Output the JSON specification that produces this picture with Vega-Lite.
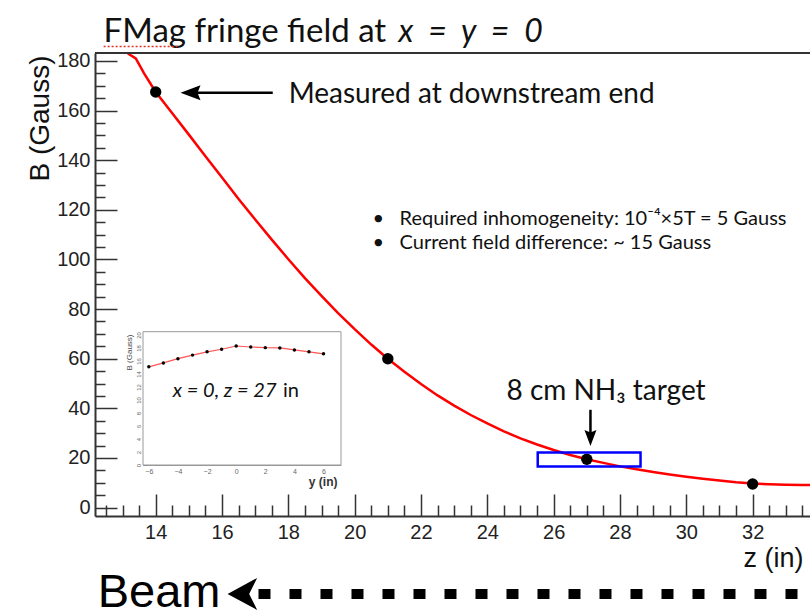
{
  "$schema": "https://vega.github.io/schema/vega-lite/v6.json",
  "width": 715,
  "height": 463,
  "padding": {"left": 95, "top": 53, "right": 0, "bottom": 100},
  "autosize": {"type": "none"},
  "background": "white",
  "config": {"view": {"stroke": null}, "font": "Liberation Sans"},
  "datasets": {
    "curve": [
      {"z": 13.16, "B": 183.0}, {"z": 13.4, "B": 181.0}, {"z": 13.65, "B": 175.0}, {"z": 14, "B": 167.5},
      {"z": 14.5, "B": 158.9}, {"z": 15, "B": 150.3}, {"z": 15.5, "B": 141.6}, {"z": 16, "B": 133.0},
      {"z": 16.5, "B": 124.4}, {"z": 17, "B": 116.1}, {"z": 17.5, "B": 108.0}, {"z": 18, "B": 100.1},
      {"z": 18.5, "B": 92.5}, {"z": 19, "B": 85.3}, {"z": 19.5, "B": 78.4}, {"z": 20, "B": 71.9},
      {"z": 20.5, "B": 65.7}, {"z": 21, "B": 60.0}, {"z": 21.5, "B": 54.7}, {"z": 22, "B": 49.8},
      {"z": 22.5, "B": 45.2}, {"z": 23, "B": 41.1}, {"z": 23.5, "B": 37.3}, {"z": 24, "B": 33.9},
      {"z": 24.5, "B": 30.7}, {"z": 25, "B": 27.9}, {"z": 25.5, "B": 25.4}, {"z": 26, "B": 23.2},
      {"z": 26.5, "B": 21.2}, {"z": 27, "B": 19.5}, {"z": 27.5, "B": 18.0}, {"z": 28, "B": 16.6},
      {"z": 28.5, "B": 15.4}, {"z": 29, "B": 14.3}, {"z": 29.5, "B": 13.3}, {"z": 30, "B": 12.4},
      {"z": 30.5, "B": 11.6}, {"z": 31, "B": 10.9}, {"z": 31.5, "B": 10.2}, {"z": 32, "B": 9.7},
      {"z": 32.5, "B": 9.4}, {"z": 33, "B": 9.2}, {"z": 33.5, "B": 9.1}, {"z": 33.73, "B": 9.1}
    ],
    "measured": [
      {"z": 14, "B": 167.5}, {"z": 21, "B": 60.0}, {"z": 27, "B": 19.5}, {"z": 32, "B": 9.5}
    ],
    "inset": [
      {"y": -6, "B": 15.1}, {"y": -5, "B": 15.7}, {"y": -4, "B": 16.35}, {"y": -3, "B": 16.9},
      {"y": -2, "B": 17.4}, {"y": -1, "B": 17.8}, {"y": 0, "B": 18.3}, {"y": 1, "B": 18.15},
      {"y": 2, "B": 18.05}, {"y": 3, "B": 18.0}, {"y": 4, "B": 17.7}, {"y": 5, "B": 17.4},
      {"y": 6, "B": 17.1}
    ],
    "one": [{}]
  },
  "layer": [
    {
      "encoding": {
        "x": {"type": "quantitative", "scale": {"domain": [12.17, 33.73], "nice": false, "zero": false}},
        "y": {"type": "quantitative", "scale": {"domain": [-3.4, 183.2], "nice": false, "zero": false}}
      },
      "layer": [
        {
          "data": {"name": "curve"},
          "mark": {"type": "line", "color": "#ff0000", "strokeWidth": 2.5, "clip": true},
          "encoding": {
            "x": {"field": "z", "type": "quantitative",
              "axis": {"values": [14, 16, 18, 20, 22, 24, 26, 28, 30, 32], "tickSize": -22, "tickWidth": 1.5, "tickColor": "#333",
                "domainColor": "#333", "domainWidth": 2, "labelFontSize": 20, "labelColor": "#222", "labelPadding": 28,
                "grid": false, "title": "z (in)", "titleFontSize": 27, "titleFontWeight": "normal", "titleColor": "#111",
                "titleAnchor": "end", "titleAlign": "right", "titleX": 708, "titleY": 50, "titleBaseline": "alphabetic"}},
            "y": {"field": "B", "type": "quantitative",
              "axis": {"values": [0, 20, 40, 60, 80, 100, 120, 140, 160, 180], "tickSize": -22, "tickWidth": 1.5, "tickColor": "#333",
                "domainColor": "#333", "domainWidth": 2, "labelFontSize": 20, "labelColor": "#222", "labelPadding": 27,
                "grid": false, "title": "B (Gauss)", "titleFontSize": 28, "titleFontWeight": "normal", "titleColor": "#111",
                "titleAngle": -90, "titleAnchor": "end", "titleAlign": "right", "titleX": -47, "titleY": 2, "titleBaseline": "alphabetic"}}
          }
        },
        {
          "data": {"name": "measured"},
          "mark": {"type": "point", "filled": true, "color": "black", "size": 130, "opacity": 1},
          "encoding": {"x": {"field": "z", "type": "quantitative"}, "y": {"field": "B", "type": "quantitative"}}
        },
        {
          "data": {"name": "one"},
          "mark": {"type": "rule", "color": "#333", "strokeWidth": 2},
          "encoding": {"y": {"datum": 183.2}}
        },
        {
          "data": {"name": "one"},
          "mark": {"type": "rule", "color": "black", "strokeWidth": 2.5},
          "encoding": {"x": {"datum": 15.0}, "x2": {"datum": 17.53}, "y": {"datum": 167.2}}
        },
        {
          "data": {"name": "one"},
          "mark": {"type": "point", "filled": true, "color": "black", "opacity": 1, "size": 400, "shape": "M-1,0 L1,-0.75 L0.7,0 L1,0.75 Z"},
          "encoding": {"x": {"datum": 15.05}, "y": {"datum": 167.2}}
        },
        {
          "data": {"name": "one"},
          "mark": {"type": "text", "font": "Lato", "fontSize": 28, "align": "left", "baseline": "alphabetic", "color": "#111"},
          "encoding": {"x": {"datum": 18.01}, "y": {"datum": 163.2}, "text": {"value": "Measured at downstream end"}}
        },
        {
          "data": {"name": "one"},
          "mark": {"type": "text", "font": "Lato", "fontSize": 33, "align": "left", "baseline": "alphabetic", "color": "#111"},
          "encoding": {"x": {"datum": 12.43}, "y": {"datum": 187.6}, "text": {"value": "FMag fringe field at"}}
        },
        {
          "data": {"name": "one"},
          "mark": {"type": "text", "font": "Lato", "fontSize": 32, "fontStyle": "italic", "align": "left", "baseline": "alphabetic", "color": "#111"},
          "encoding": {"x": {"datum": 21.32}, "y": {"datum": 187.6}, "text": {"value": "x\u00a0\u00a0=\u00a0\u00a0y\u00a0\u00a0=\u00a0\u00a00"}}
        },
        {
          "data": {"name": "one"},
          "mark": {"type": "rule", "color": "#e03020", "strokeWidth": 1.5, "strokeDash": [2, 2]},
          "encoding": {"x": {"datum": 12.43}, "x2": {"datum": 14.69}, "y": {"datum": 185.8}}
        },
        {
          "data": {"name": "one"},
          "mark": {"type": "text", "font": "Lato", "fontSize": 20, "align": "left", "baseline": "alphabetic", "color": "#111"},
          "encoding": {"x": {"datum": 20.54}, "y": {"datum": 113.9}, "text": {"value": "•\u00a0\u00a0\u00a0Required inhomogeneity: 10⁻⁴×5T = 5 Gauss"}}
        },
        {
          "data": {"name": "one"},
          "mark": {"type": "text", "font": "Lato", "fontSize": 20, "align": "left", "baseline": "alphabetic", "color": "#111"},
          "encoding": {"x": {"datum": 20.54}, "y": {"datum": 104.2}, "text": {"value": "•\u00a0\u00a0\u00a0Current field difference: ~ 15 Gauss"}}
        },
        {
          "data": {"name": "one"},
          "mark": {"type": "text", "font": "Lato", "fontSize": 28, "align": "center", "baseline": "alphabetic", "color": "#111"},
          "encoding": {"x": {"datum": 27.58}, "y": {"datum": 43.4}, "text": {"value": "8 cm NH₃ target"}}
        },
        {
          "data": {"name": "one"},
          "mark": {"type": "rule", "color": "black", "strokeWidth": 2.5},
          "encoding": {"x": {"datum": 27.11}, "y": {"datum": 39.4}, "y2": {"datum": 29.0}}
        },
        {
          "data": {"name": "one"},
          "mark": {"type": "point", "filled": true, "color": "black", "opacity": 1, "size": 256, "shape": "M0,1 L-0.75,-1 L0,-0.7 L0.75,-1 Z"},
          "encoding": {"x": {"datum": 27.11}, "y": {"datum": 28.0}}
        },
        {
          "data": {"name": "one"},
          "mark": {"type": "rect", "fill": null, "stroke": "#0000ff", "strokeWidth": 2.5},
          "encoding": {"x": {"datum": 25.52}, "x2": {"datum": 28.62}, "y": {"datum": 16.5}, "y2": {"datum": 22.2}}
        },
        {
          "data": {"name": "one"},
          "mark": {"type": "text", "font": "Liberation Sans", "fontSize": 47, "align": "left", "baseline": "alphabetic", "color": "black"},
          "encoding": {"x": {"datum": 12.25}, "y": {"datum": -40.2}, "text": {"value": "Beam"}}
        },
        {
          "data": {"name": "one"},
          "mark": {"type": "point", "filled": true, "color": "black", "opacity": 1, "size": 1024, "shape": "M-1,0 L0.85,-1 L0.35,0 L0.85,1 Z"},
          "encoding": {"x": {"datum": 16.65}, "y": {"datum": -34.8}}
        },
        {
          "data": {"name": "one"},
          "mark": {"type": "rule", "color": "black", "strokeWidth": 10, "strokeDash": [12, 19], "strokeCap": "butt"},
          "encoding": {"x": {"datum": 17.1}, "x2": {"datum": 33.73}, "y": {"datum": -34.8}}
        }
      ]
    },
    {
      "data": {"name": "measured"},
      "mark": {"type": "point", "opacity": 0},
      "encoding": {
        "x": {"field": "z", "type": "quantitative", "scale": {"domain": [12.17, 33.73], "nice": false, "zero": false},
          "axis": {"orient": "bottom", "values": [12.5, 13, 13.5, 14.5, 15, 15.5, 16.5, 17, 17.5, 18.5, 19, 19.5, 20.5, 21, 21.5, 22.5, 23, 23.5, 24.5, 25, 25.5, 26.5, 27, 27.5, 28.5, 29, 29.5, 30.5, 31, 31.5, 32.5, 33, 33.5],
            "tickSize": -11, "tickWidth": 1.5, "tickColor": "#333", "labels": false, "domain": false, "grid": false, "title": null}},
        "y": {"field": "B", "type": "quantitative", "scale": {"domain": [-3.4, 183.2], "nice": false, "zero": false},
          "axis": {"orient": "left", "values": [5, 10, 15, 25, 30, 35, 45, 50, 55, 65, 70, 75, 85, 90, 95, 105, 110, 115, 125, 130, 135, 145, 150, 155, 165, 170, 175],
            "tickSize": -10, "tickWidth": 1.5, "tickColor": "#333", "labels": false, "domain": false, "grid": false, "title": null}}
      }
    },
    {
      "encoding": {
        "x": {"type": "quantitative", "scale": {"domain": [-6.4, 7.2], "range": [48, 246], "nice": false, "zero": false}},
        "y": {"type": "quantitative", "scale": {"domain": [0, 20.5], "range": [412, 278.7], "nice": false, "zero": false}}
      },
      "layer": [
        {
          "data": {"name": "one"},
          "mark": {"type": "rect", "fill": "white", "stroke": "#999", "strokeWidth": 1},
          "encoding": {"x": {"datum": -6.4}, "x2": {"datum": 7.2}, "y": {"datum": 0}, "y2": {"datum": 20.5}}
        },
        {
          "data": {"name": "inset"},
          "mark": {"type": "line", "color": "#ff5555", "strokeWidth": 1.2},
          "encoding": {
            "x": {"field": "y", "type": "quantitative",
              "axis": {"orient": "bottom", "offset": -51, "values": [-6, -4, -2, 0, 2, 4, 6], "tickSize": -4, "tickColor": "#888", "domainColor": "#999",
                "labelFontSize": 7, "labelColor": "#666", "labelPadding": 6, "grid": false,
                "title": "y (in)", "titleFontSize": 12, "titleFontWeight": "bold", "titleColor": "#333", "titleAnchor": "end", "titleAlign": "right", "titleX": 242, "titleY": 20, "titleBaseline": "alphabetic"}},
            "y": {"field": "B", "type": "quantitative",
              "axis": {"orient": "left", "offset": -48, "values": [0, 2, 4, 6, 8, 10, 12, 14, 16, 18, 20], "tickSize": -4, "tickColor": "#888", "domainColor": "#999",
                "labelFontSize": 6, "labelColor": "#666", "labelPadding": 6, "labelAngle": -90, "labelAlign": "center", "labelBaseline": "bottom", "grid": false,
                "title": "B (Gauss)", "titleFontSize": 8, "titleFontWeight": "normal", "titleColor": "#444", "titleAnchor": "end", "titleAlign": "right", "titleAngle": -90, "titleX": -10, "titleY": 281, "titleBaseline": "bottom"}}
          }
        },
        {
          "data": {"name": "inset"},
          "mark": {"type": "point", "filled": true, "color": "black", "size": 12, "opacity": 1},
          "encoding": {"x": {"field": "y", "type": "quantitative"}, "y": {"field": "B", "type": "quantitative"}}
        },
        {
          "data": {"name": "one"},
          "mark": {"type": "text", "font": "Lato", "fontSize": 20, "fontStyle": "italic", "align": "left", "baseline": "alphabetic", "color": "#111"},
          "encoding": {"x": {"datum": -4.35}, "y": {"datum": 10.5}, "text": {"value": "x = 0, z = 27"}}
        },
        {
          "data": {"name": "one"},
          "mark": {"type": "text", "font": "Lato", "fontSize": 20, "align": "left", "baseline": "alphabetic", "color": "#111"},
          "encoding": {"x": {"datum": 3.22}, "y": {"datum": 10.5}, "text": {"value": "in"}}
        }
      ]
    },
    {
      "data": {"name": "inset"},
      "mark": {"type": "point", "opacity": 0},
      "encoding": {
        "x": {"field": "y", "type": "quantitative", "scale": {"domain": [-6.4, 7.2], "range": [48, 246], "nice": false, "zero": false},
          "axis": {"orient": "bottom", "offset": -51, "values": [-5.5, -5, -4.5, -3.5, -3, -2.5, -1.5, -1, -0.5, 0.5, 1, 1.5, 2.5, 3, 3.5, 4.5, 5, 5.5, 6.5, 7],
            "tickSize": -2.5, "tickColor": "#888", "labels": false, "domain": false, "grid": false, "title": null}},
        "y": {"field": "B", "type": "quantitative", "scale": {"domain": [0, 20.5], "range": [412, 278.7], "nice": false, "zero": false},
          "axis": null}
      }
    }
  ],
  "resolve": {"scale": {"x": "independent", "y": "independent"}, "axis": {"x": "independent", "y": "independent"}}
}
